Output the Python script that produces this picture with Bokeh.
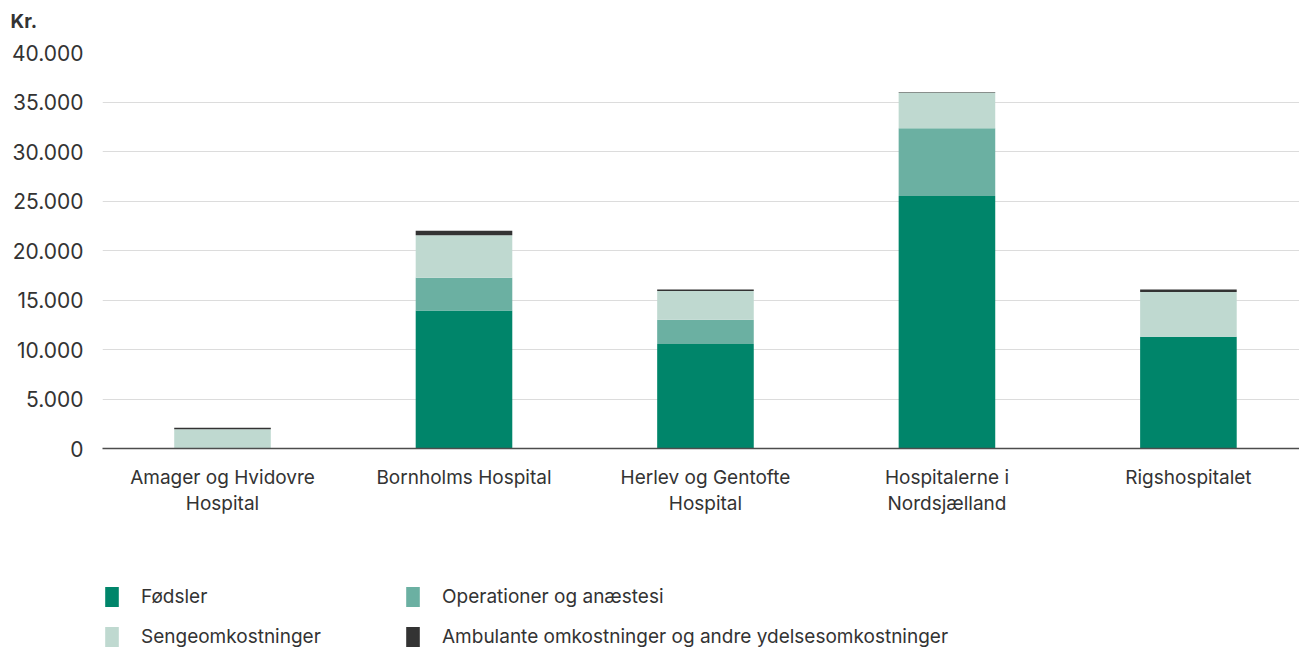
from bokeh.plotting import figure
from bokeh.layouts import column
from bokeh.models import ColumnDataSource, FixedTicker, Range1d, Legend, LegendItem, Title
from bokeh.embed import file_html
from bokeh.resources import INLINE

hospitals = ["Amager og Hvidovre\nHospital", "Bornholms Hospital", "Herlev og Gentofte\nHospital",
             "Hospitalerne i\nNordsjælland", "Rigshospitalet"]
foedsler = [0, 13950, 10550, 25500, 11300]
operationer = [0, 3300, 2450, 6850, 0]
seng = [1950, 4300, 2900, 3600, 4500]
ambulant = [150, 450, 150, 60, 250]
series = ["Fødsler", "Operationer og anæstesi", "Sengeomkostninger",
          "Ambulante omkostninger og andre ydelsesomkostninger"]
keys = ["foedsler", "operationer", "seng", "ambulant"]
colors = ["#00856A", "#6BB0A2", "#BFD9D0", "#333333"]
y_ticks = [0, 5000, 10000, 15000, 20000, 25000, 30000, 35000, 40000]
y_labels = ["0", "5.000", "10.000", "15.000", "20.000", "25.000", "30.000", "35.000", "40.000"]
unit_label = "Kr."

FONT = "Inter"
TXT = "#333333"
W = 1299
xs = list(range(len(hospitals)))
src = ColumnDataSource(dict(x=xs, foedsler=foedsler, operationer=operationer, seng=seng, ambulant=ambulant))

# --- header strip holding the unit label (as a title, so it is not clipped)
TOP_H = 35
top = figure(width=W, height=TOP_H, output_backend="svg", toolbar_location=None,
             x_range=Range1d(0, 1), y_range=Range1d(0, 1), min_border=0, min_border_top=32)
top.outline_line_color = None
top.axis.visible = False
top.grid.visible = False
top.title = Title(text=unit_label, align="left", offset=-92, standoff=0, text_font=FONT,
                  text_font_size="19px", text_font_style="bold", text_color=TXT)

# --- main chart
MAIN_H = 537
FRAME_TOP = 52 - TOP_H
FRAME_BOTTOM = 448 - TOP_H
p = figure(width=W, height=MAIN_H, output_backend="svg", toolbar_location=None,
           x_range=Range1d(-0.497, 4.46), y_range=Range1d(0, 40000),
           min_border_left=102, min_border_right=0, min_border_top=FRAME_TOP,
           min_border_bottom=MAIN_H - FRAME_BOTTOM)
p.outline_line_color = None
p.background_fill_color = "white"

renderers = p.vbar_stack(keys, x="x", width=0.4, source=src, color=colors, line_color=None)

p.xgrid.grid_line_color = None
p.ygrid.grid_line_color = "#dcdcdc"
p.ygrid.grid_line_width = 1
p.ygrid.ticker = FixedTicker(ticks=y_ticks)

p.yaxis.ticker = FixedTicker(ticks=y_ticks)
p.yaxis.major_label_overrides = {t: l for t, l in zip(y_ticks, y_labels)}
p.yaxis.axis_line_color = None
p.yaxis.major_tick_line_color = None
p.yaxis.minor_tick_line_color = None
p.yaxis.major_label_standoff = 13
p.yaxis.major_label_text_font = FONT
p.yaxis.major_label_text_font_size = "21px"
p.yaxis.major_label_text_color = TXT

p.xaxis.ticker = FixedTicker(ticks=xs)
p.xaxis.major_label_overrides = {i: h for i, h in zip(xs, hospitals)}
p.xaxis.axis_line_color = "#4d4d4d"
p.xaxis.axis_line_width = 1.5
p.xaxis.major_tick_line_color = None
p.xaxis.minor_tick_line_color = None
p.xaxis.major_label_standoff = 11
p.xaxis.major_label_text_font = FONT
p.xaxis.major_label_text_font_size = "19px"
p.xaxis.major_label_text_color = TXT
p.xaxis.major_label_text_line_height = 1.15

# --- legend strip below the chart
LEG_H = 649 - TOP_H - MAIN_H
leg = figure(width=W, height=LEG_H, output_backend="svg", toolbar_location=None,
             x_range=Range1d(100, 101), y_range=Range1d(0, 1), min_border=0)
leg.outline_line_color = None
leg.axis.visible = False
leg.grid.visible = False
leg_src = ColumnDataSource(dict(x=[0], foedsler=[0], operationer=[0], seng=[0], ambulant=[0]))
leg_rs = leg.vbar_stack(keys, x="x", width=0.4, source=leg_src, color=colors, line_color=None)

order = [0, 2, 1, 3]
items = [LegendItem(label=series[i], renderers=[leg_rs[i]]) for i in order]
legend = Legend(items=items, ncols=2, location=(1, 0), orientation="vertical",
                glyph_width=17, glyph_height=25, label_height=20, label_standoff=21,
                label_width=248, spacing=15, padding=0, margin=0,
                border_line_alpha=0, background_fill_alpha=0,
                label_text_font=FONT, label_text_font_size="19px", label_text_color=TXT)
leg.add_layout(legend, "center")

open("out.html", "w").write(file_html(column(top, p, leg, spacing=0), INLINE))
